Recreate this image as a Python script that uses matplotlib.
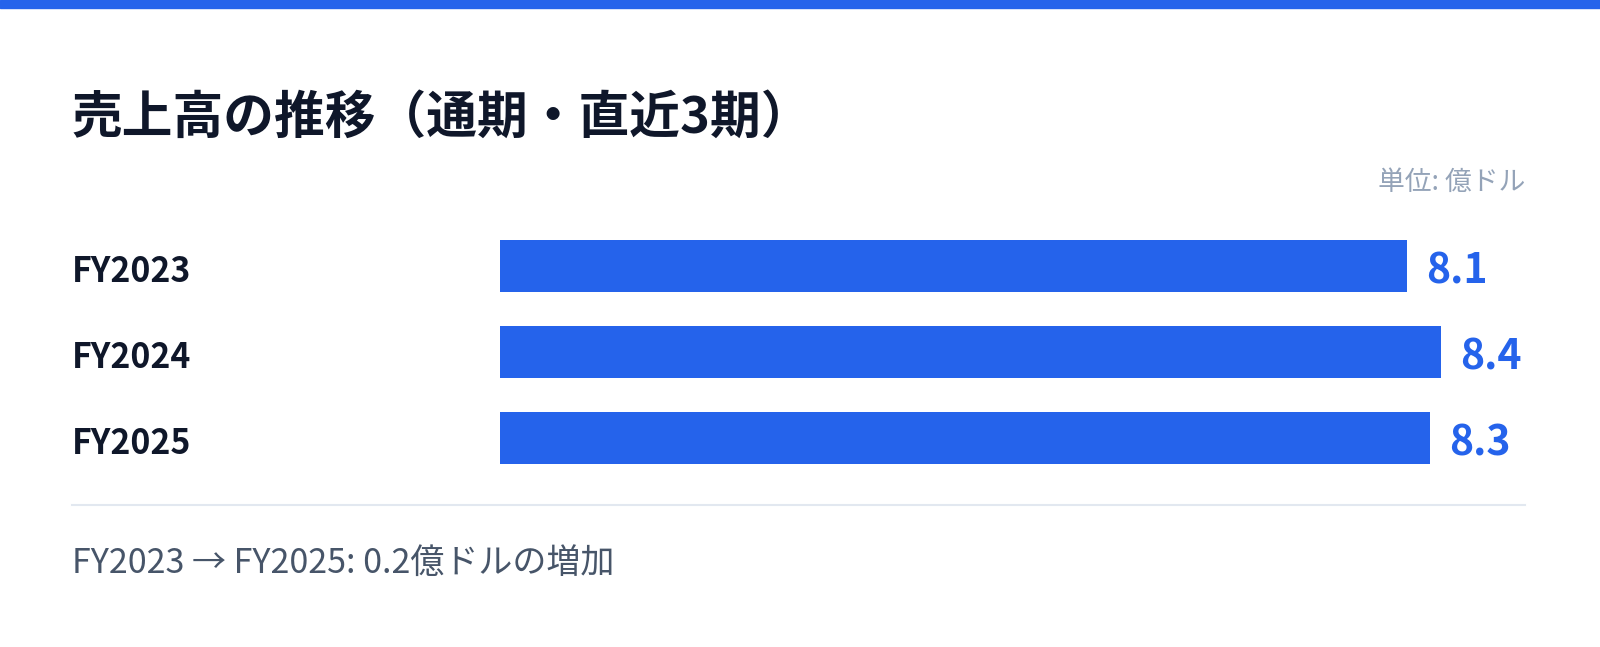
import matplotlib
matplotlib.use("Agg")
import matplotlib.pyplot as plt
import matplotlib.transforms as mtransforms
from matplotlib.patches import Rectangle
from matplotlib.lines import Line2D

plt.rcParams['font.family'] = ['Noto Sans CJK JP', 'DejaVu Sans']

# data
years = ["FY2023", "FY2024", "FY2025"]
sales = [8.1, 8.4, 8.3]
title = "売上高の推移（通期・直近3期）"
unit_label = "単位: 億ドル"
footer = "FY2023 → FY2025: 0.2億ドルの増加"

BLUE = "#2563EB"
DARK = "#0F172A"

W, H = 1600, 647
fig = plt.figure(figsize=(W / 100, H / 100), dpi=100)
fig.patch.set_facecolor("white")


def fy(px):
    # pixel from top -> figure fraction
    return 1 - px / H


# top accent bar
fig.patches.append(Rectangle((0, fy(7.5)), 1, 7.5 / H, transform=fig.transFigure,
                             color=BLUE, zorder=0))

# bars axes
ax = fig.add_axes([500 / W, fy(480.8), 1025 / W, (480.8 - 222.8) / H])
ypos = list(range(len(years)))
ax.barh(ypos, sales, height=0.6, color=BLUE)
ax.set_xlim(0, 1025 / 112)
ax.set_ylim(2.5, -0.5)
ax.axis("off")

for y, v in zip(ypos, sales):
    ax.text(v + 0.17, y + 0.204, f"{v:.1f}", color=BLUE, fontsize=29.5,
            fontweight="bold", ha="left", va="baseline")

trans = mtransforms.blended_transform_factory(fig.transFigure, ax.transData)
for y, name in zip(ypos, years):
    ax.text(72 / W, y + 0.185, name, transform=trans, color=DARK, fontsize=24.3,
            fontweight="bold", ha="left", va="baseline")

# title and unit
fig.text(72 / W, fy(133), title, color=DARK, fontsize=36.5, fontweight="bold",
         ha="left", va="baseline")
fig.text(1525 / W, fy(190), unit_label, color="#94A3B8", fontsize=19.3,
         ha="right", va="baseline")

# divider and footer
fig.lines.append(Line2D([72 / W, 1525 / W], [fy(505), fy(505)], transform=fig.transFigure,
                        color="#E2E8F0", linewidth=1.5))
fig.text(72 / W, fy(573), footer, color="#475569", fontsize=24.5,
         ha="left", va="baseline")

fig.savefig("out.png", dpi=100, facecolor="white")
